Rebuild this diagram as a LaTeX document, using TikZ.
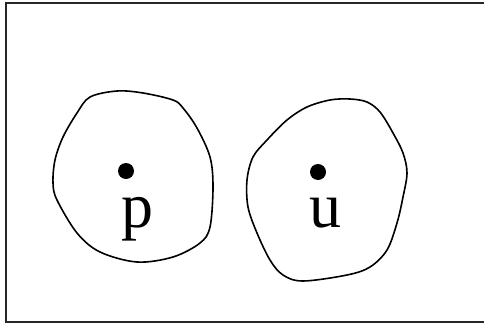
\documentclass[tikz,border=0pt]{standalone}
\usepackage{fontspec}
\setmainfont{Liberation Serif}
\begin{document}
\begin{tikzpicture}[x=1pt,y=-1pt,
  blob/.style={draw=black,line width=1.6pt},
  pt/.style={circle,fill=black,inner sep=0pt,minimum size=16pt},
  lbl/.style={anchor=base,inner sep=0pt,font=\fontsize{64}{64}\selectfont}]
\useasboundingbox (0,0) rectangle (484,324);
\draw[line width=1.5pt,draw=black!85] (6,3) rectangle (492,322);
\draw[blob] plot[smooth cycle,tension=0.55] coordinates {
 (117,91) (143,93) (173,100) (183,108) (197,128) (210,157) (213,187)
 (210,227) (200,243) (173,257) (137,262) (100,252) (77,233) (57,200)
 (53,183) (55,160) (63,137) (77,113) (90,97)};
\draw[blob] plot[smooth cycle,tension=0.55] coordinates {
 (350,99) (367,102) (380,112) (393,133) (403,153) (407,173) (403,197)
 (397,223) (387,250) (370,267) (347,275) (303,281) (283,275) (270,260)
 (257,233) (248,207) (247,180) (253,157) (267,140) (287,120) (307,107) (330,100)};
\node[pt] (dp) at (126,171) {};
\node[pt] (du) at (318,172) {};
\node[lbl] (p) at (137,227) {p};
\node[lbl] (u) at (325,227) {u};
\end{tikzpicture}
\end{document}
